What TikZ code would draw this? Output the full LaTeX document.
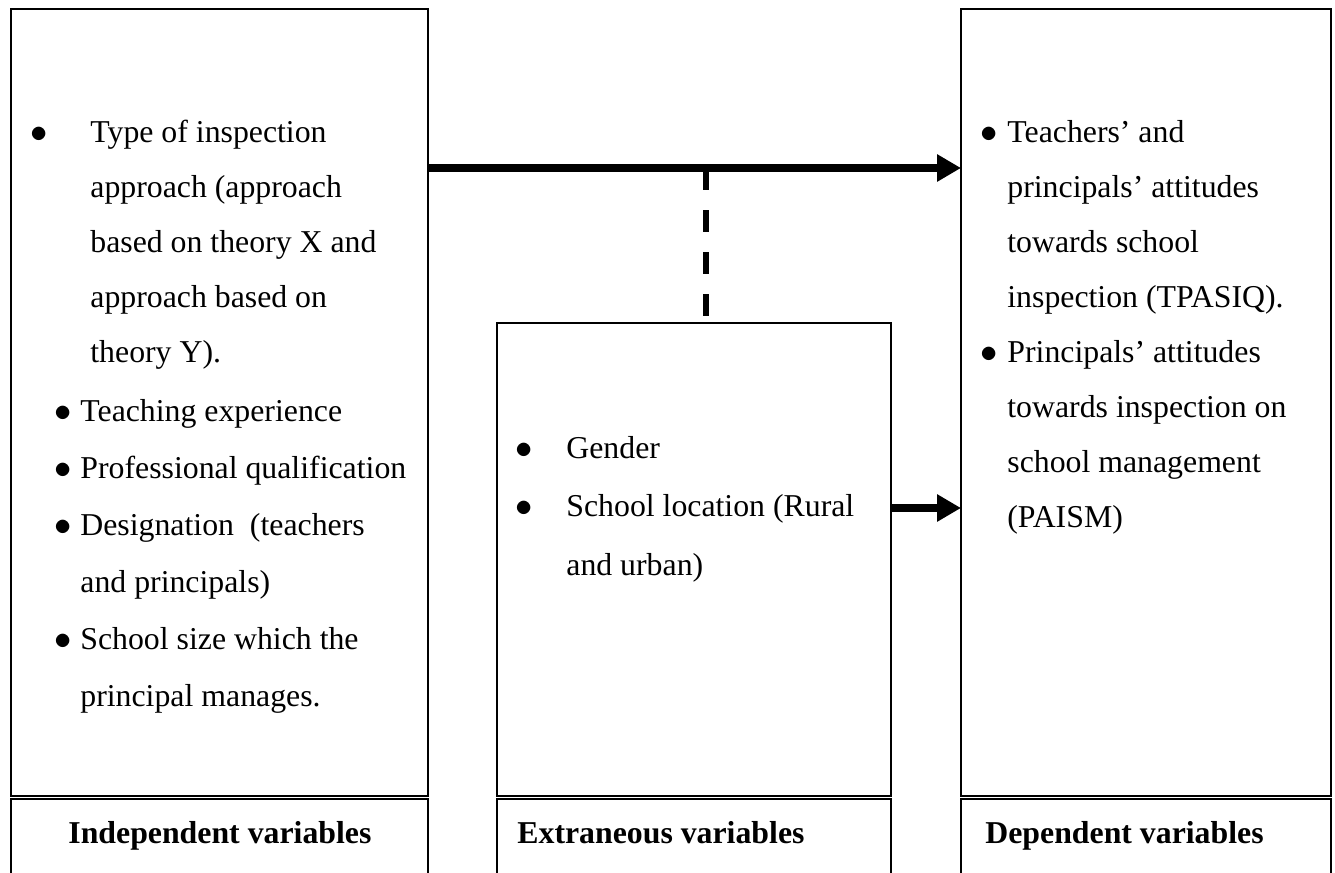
\documentclass[tikz,border=0pt]{standalone}
\usepackage{fontspec}
\setmainfont{Liberation Serif}
\usetikzlibrary{positioning}
\usetikzlibrary{arrows.meta}
\usetikzlibrary{calc}

\newcommand{\bdot}{$\bullet$}

\begin{document}
\begin{tikzpicture}[
    x=0.5pt, y=-0.5pt,
    box/.style={rectangle, draw=black, line width=1pt, fill=white, outer sep=0pt, inner sep=0pt},
    labelbox/.style={box, minimum height=60pt},
    items/.style={inner sep=0pt, anchor=base west, font=\fontsize{15.9}{27.5}\selectfont},
    heading/.style={inner sep=0pt, anchor=base west, font=\fontsize{15.9}{27.5}\selectfont\bfseries},
    bigarrow/.style={line width=4pt, -{Triangle[length=12pt, width=13pt]}},
    dashline/.style={line width=3pt, dash pattern=on 11pt off 10pt}
]
    \useasboundingbox (0,0) rectangle (1335,873);

    % upper boxes
    \node[box, minimum width=208.5pt, minimum height=393.5pt] (B1) [anchor=north west] at (11,9) {};
    \node[box, minimum width=197pt, minimum height=236.5pt] (B2) [anchor=north west] at (497,323) {};
    \node[box, minimum width=185pt, minimum height=393.5pt] (B3) [anchor=north west] at (961,9) {};

    % label boxes
    \node[labelbox, minimum width=208.5pt] (L1) [below=1.5pt of B1] {};
    \node[labelbox, minimum width=197pt] (L2) [below=1.5pt of B2] {};
    \node[labelbox, minimum width=185pt] (L3) [below=1.5pt of B3] {};

    \node[heading] (H1) at (68,843) {Independent variables};
    \node[heading] (H2) at (517,843) {Extraneous variables};
    \node[heading] (H3) at (985,843) {Dependent variables};

    % independent variables
    \node[items] (T1) at (30,142) {\begin{tabular}[t]{@{}p{30pt}@{}l@{}}
        \bdot & Type of inspection\\
              & approach (approach\\
              & based on theory X and\\
              & approach based on\\
              & theory Y).
    \end{tabular}};
    \node[items, font=\fontsize{15.9}{28.5}\selectfont] (T2) at (54,421) {\begin{tabular}[t]{@{}p{13pt}@{}l@{}}
        \bdot & Teaching experience\\
        \bdot & Professional qualification\\
        \bdot & Designation~ (teachers\\
              & and principals)\\
        \bdot & School size which the\\
              & principal manages.
    \end{tabular}};

    % extraneous variables
    \node[items, font=\fontsize{15.9}{29.25}\selectfont] (T3) at (515,458) {\begin{tabular}[t]{@{}p{25.5pt}@{}l@{}}
        \bdot & Gender\\
        \bdot & School location (Rural\\
              & and urban)
    \end{tabular}};

    % dependent variables
    \node[items] (T4) at (980,142) {\begin{tabular}[t]{@{}p{13.5pt}@{}l@{}}
        \bdot & Teachers’ and\\
              & principals’ attitudes\\
              & towards school\\
              & inspection (TPASIQ).\\
        \bdot & Principals’ attitudes\\
              & towards inspection on\\
              & school management\\
              & (PAISM)
    \end{tabular}};

    \coordinate (r1) at (0,168);
    \coordinate (r2) at (0,508);
    \coordinate (d1) at (706,168);

    \draw[bigarrow] (B1.east |- r1) -- (B3.west |- r1);
    \draw[bigarrow] (B2.east |- r2) -- (B3.west |- r2);
    \draw[dashline] (d1) -- ($(d1 |- B2.north)+(0,-7)$);

\end{tikzpicture}
\end{document}
